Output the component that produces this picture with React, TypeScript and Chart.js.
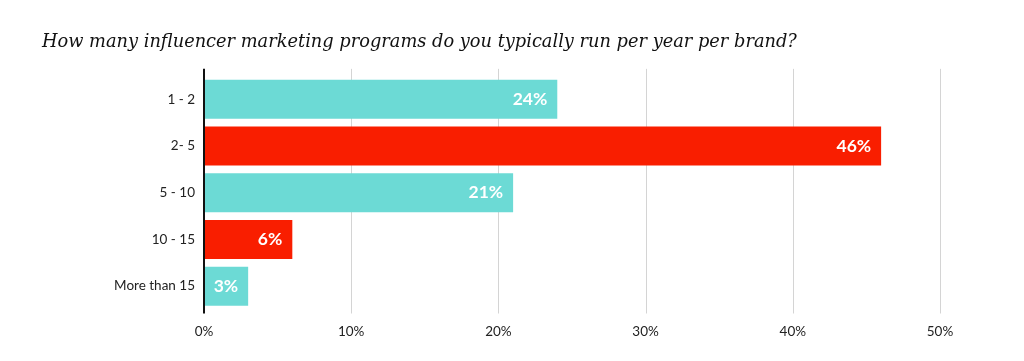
import React, { useEffect, useRef } from "react";
import { Chart, registerables } from "chart.js";

Chart.register(...registerables);

const titleText = "How many influencer marketing programs do you typically run per year per brand?";
const categories = ["1 - 2", "2- 5", "5 - 10", "10 - 15", "More than 15"];
const values = [24, 46, 21, 6, 3];
const barColors = ["#6cdad5", "#f91e00", "#6cdad5", "#f91e00", "#6cdad5"];
const xTicks = [0, 10, 20, 30, 40, 50];

const labelFont = "Lato, 'Noto Sans', sans-serif";

const overlayPlugin = {
  id: "overlay",
  beforeDatasetsDraw(chart: any) {
    const { ctx, chartArea, scales } = chart;
    const x = scales.x;
    ctx.save();
    ctx.strokeStyle = "#d4d4d4";
    ctx.lineWidth = 1;
    xTicks.forEach((t) => {
      if (t === 0) return;
      const px = Math.round(x.getPixelForValue(t)) + 0.5;
      ctx.beginPath();
      ctx.moveTo(px, chartArea.top - 7);
      ctx.lineTo(px, chartArea.bottom + 4);
      ctx.stroke();
    });
    ctx.restore();
  },
  afterDatasetsDraw(chart: any) {
    const { ctx, chartArea, scales } = chart;
    const x = scales.x;
    ctx.save();
    const meta = chart.getDatasetMeta(0);
    ctx.fillStyle = "#ffffff";
    ctx.font = `bold 17.5px ${labelFont}`;
    ctx.textAlign = "right";
    ctx.textBaseline = "middle";
    meta.data.forEach((bar: any, i: number) => {
      ctx.fillText(values[i] + "%", bar.x - 10, bar.y);
    });
    const px = x.getPixelForValue(0);
    ctx.strokeStyle = "#111111";
    ctx.lineWidth = 2;
    ctx.beginPath();
    ctx.moveTo(px, chartArea.top - 7);
    ctx.lineTo(px, chartArea.bottom + 4);
    ctx.stroke();
    ctx.restore();
  },
};

export default function App() {
  const ref = useRef<HTMLCanvasElement>(null);
  useEffect(() => {
    document.body.style.margin = "0";
    const chart = new Chart(ref.current!, {
      type: "bar",
      data: {
        labels: categories,
        datasets: [
          {
            data: values,
            backgroundColor: barColors,
            borderWidth: 0,
            barPercentage: 0.835,
            categoryPercentage: 1,
          },
        ],
      },
      options: {
        indexAxis: "y",
        animation: false,
        responsive: false,
        layout: { padding: { left: 42, right: 84, top: 0, bottom: 0 } },
        plugins: {
          legend: { display: false },
          tooltip: { enabled: false },
          title: {
            display: true,
            text: titleText,
            align: "start",
            color: "#111111",
            font: { family: "'DejaVu Serif', serif", style: "italic", size: 17.8, weight: "normal" },
            padding: { top: 31.5, bottom: 23 },
          },
        },
        scales: {
          x: {
            min: 0,
            max: 50,
            afterBuildTicks(scale: any) {
              scale.ticks = xTicks.map((v) => ({ value: v }));
            },
            afterFit(scale: any) {
              scale.height = 51.5;
            },
            grid: { display: false, drawTicks: false },
            border: { display: false },
            ticks: {
              padding: 14,
              color: "#222222",
              font: { family: labelFont, size: 13.5 },
              callback: (v: any) => v + "%",
            },
          },
          y: {
            afterFit(scale: any) {
              scale.width = 162;
            },
            grid: { display: false, drawTicks: false },
            border: { display: false },
            ticks: {
              padding: 9,
              color: "#222222",
              font: { family: labelFont, size: 13.5 },
            },
          },
        },
      },
      plugins: [overlayPlugin],
    });
    return () => chart.destroy();
  }, []);
  return <canvas ref={ref} width={1024} height={361} style={{ display: "block" }} />;
}
